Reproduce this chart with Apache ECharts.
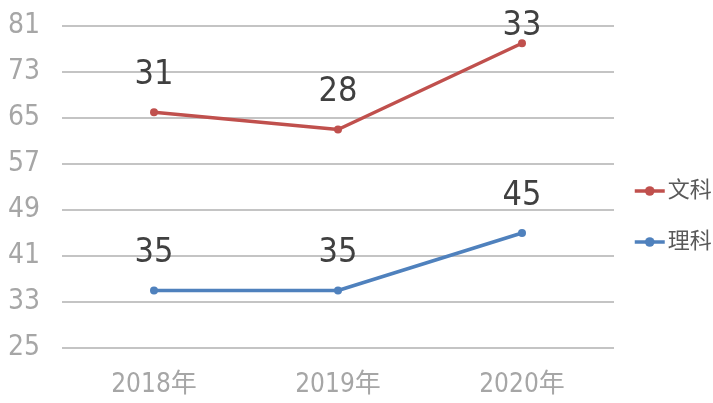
<!DOCTYPE html>
<html>
<head>
<meta charset="utf-8">
<script src="https://cdn.jsdelivr.net/npm/echarts@6/dist/echarts.min.js"></script>
<style>
  html, body { margin: 0; padding: 0; background: #fff; }
  #main { width: 713px; height: 403px; }
</style>
</head>
<body>
<div id="main"></div>
<script>
var years = ['2018年', '2019年', '2020年'];
// plotted heights
var wenkeY = [66, 63, 78];
var likeY = [35, 35, 45];
// the numbers printed next to the points
var wenkeLabels = [31, 28, 33];
var likeLabels = [35, 35, 45];
var yTicks = [25, 33, 41, 49, 57, 65, 73, 81];

var FONT = '"Liberation Sans Narrow", "DejaVu Sans Condensed", "Noto Sans CJK SC", sans-serif';

function seriesData(values, labels) {
    return values.map(function (v, i) {
        var item = { value: v, labelText: labels[i] };
        // the top label in the original is pushed down onto the point
        if (v >= yTicks[yTicks.length - 1] - 4) {
            item.label = { offset: [0, 20] };
        }
        return item;
    });
}

function makeSeries(name, color, values, labels) {
    return {
        name: name,
        type: 'line',
        data: seriesData(values, labels),
        symbol: 'circle',
        symbolSize: 8,
        lineStyle: { color: color, width: 3.5 },
        itemStyle: { color: color },
        label: {
            show: true,
            position: 'top',
            distance: 16,
            color: '#404040',
            fontSize: 34,
            fontFamily: FONT,
            formatter: function (p) { return p.data.labelText; }
        }
    };
}

var chart = echarts.init(document.getElementById('main'));
chart.setOption({
    animation: false,
    grid: { left: 62, right: 99, top: 26, bottom: 55 },
    legend: {
        orient: 'vertical',
        left: 628,
        top: 174,
        itemWidth: 30,
        itemHeight: 12,
        itemGap: 27,
        lineStyle: { width: 3.5 },
        textStyle: { fontSize: 22, color: '#595959', fontFamily: FONT, lineHeight: 24, padding: [0, 0, 0, -2] },
        data: ['文科', '理科']
    },
    xAxis: {
        type: 'category',
        data: years,
        boundaryGap: true,
        axisLine: { show: false },
        axisTick: { show: false },
        axisLabel: { color: '#a6a6a6', fontSize: 26, fontFamily: FONT, margin: 24 }
    },
    yAxis: {
        type: 'value',
        min: yTicks[0],
        max: yTicks[yTicks.length - 1],
        interval: 8,
        axisLine: { show: false },
        axisTick: { show: false },
        axisLabel: { color: '#a6a6a6', fontSize: 28, fontFamily: FONT, margin: 22 },
        splitLine: { lineStyle: { color: '#c4c4c4', width: 2 } }
    },
    series: [
        makeSeries('文科', '#c0504d', wenkeY, wenkeLabels),
        makeSeries('理科', '#4f81bd', likeY, likeLabels)
    ]
});
</script>
</body>
</html>
